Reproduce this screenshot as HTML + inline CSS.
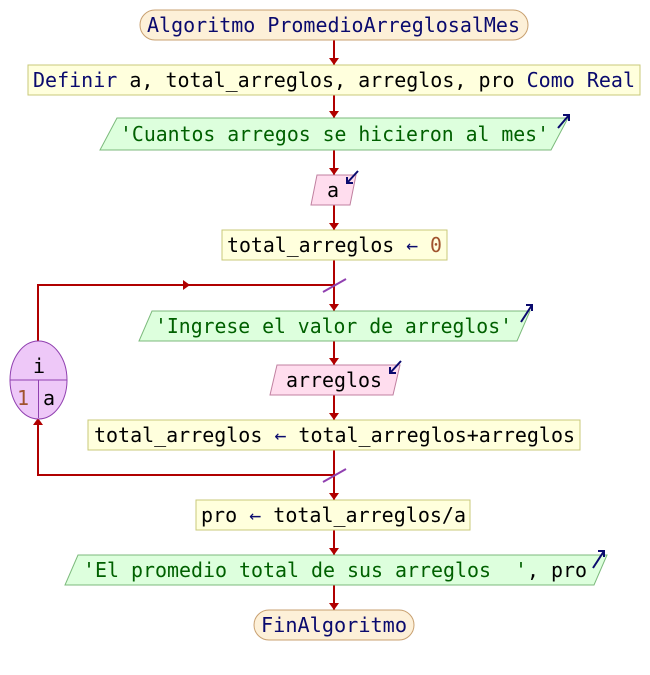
<!DOCTYPE html>
<html><head><style>
html,body{margin:0;padding:0;background:#fff;}
svg{display:block;}
text{font-family:"DejaVu Sans Mono","Liberation Mono",monospace;font-size:20px;}
.k{fill:#0a0a6e}.s{fill:#006000}.b{fill:#000}.n{fill:#a0522d}
</style></head><body>
<svg width="650" height="675" viewBox="0 0 650 675" xmlns="http://www.w3.org/2000/svg">
<g stroke="#b00000" stroke-width="2" fill="none">
<line x1="334" y1="40" x2="334" y2="65"/>
<line x1="334" y1="95" x2="334" y2="118"/>
<line x1="334" y1="150" x2="334" y2="175"/>
<line x1="334" y1="205" x2="334" y2="230"/>
<line x1="334" y1="260" x2="334" y2="311"/>
<line x1="334" y1="341" x2="334" y2="365"/>
<line x1="334" y1="395" x2="334" y2="420"/>
<line x1="334" y1="450" x2="334" y2="500"/>
<line x1="334" y1="530" x2="334" y2="555"/>
<line x1="334" y1="585" x2="334" y2="610"/>
<polyline points="38,341 38,285 334,285"/>
<polyline points="334,475 38,475 38,418"/>
</g>
<g fill="#b00000">
<path d="M329,58 L339,58 L334,65 Z"/>
<path d="M329,111 L339,111 L334,118 Z"/>
<path d="M329,168 L339,168 L334,175 Z"/>
<path d="M329,223 L339,223 L334,230 Z"/>
<path d="M329,304 L339,304 L334,311 Z"/>
<path d="M329,358 L339,358 L334,365 Z"/>
<path d="M329,413 L339,413 L334,420 Z"/>
<path d="M329,493 L339,493 L334,500 Z"/>
<path d="M329,548 L339,548 L334,555 Z"/>
<path d="M329,603 L339,603 L334,610 Z"/>
<path d="M183,280 L190,285 L183,290 Z"/>
<path d="M33,425 L43,425 L38,418 Z"/>
</g>
<g stroke="#9040b0" stroke-width="2">
<line x1="323" y1="292" x2="346" y2="279"/>
<line x1="323" y1="482" x2="346" y2="469"/>
</g>
<rect x="140" y="10" width="388" height="30" rx="15" fill="#fdf0d8" stroke="#c8a070"/>
<rect x="28" y="65" width="612" height="30" fill="#ffffdd" stroke="#c8c87a"/>
<polygon points="117,118 568,118 551,150 100,150" fill="#ddffdd" stroke="#7cba7c"/>
<polygon points="317,175 356,175 350,205 311,205" fill="#ffddee" stroke="#c080a0"/>
<rect x="222" y="230" width="225" height="30" fill="#ffffdd" stroke="#c8c87a"/>
<polygon points="152,311 530,311 517,341 139,341" fill="#ddffdd" stroke="#7cba7c"/>
<polygon points="277,365 400,365 393,395 270,395" fill="#ffddee" stroke="#c080a0"/>
<rect x="88" y="420" width="492" height="30" fill="#ffffdd" stroke="#c8c87a"/>
<rect x="196" y="500" width="274" height="30" fill="#ffffdd" stroke="#c8c87a"/>
<polygon points="78,555 607,555 594,585 65,585" fill="#ddffdd" stroke="#7cba7c"/>
<rect x="254" y="610" width="160" height="30" rx="15" fill="#fdf0d8" stroke="#c8a070"/>
<ellipse cx="38.5" cy="380" rx="28.5" ry="39" fill="#eec8f8" stroke="#9040b0"/>
<line x1="10" y1="380" x2="67" y2="380" stroke="#9040b0"/>
<line x1="38.5" y1="380" x2="38.5" y2="418" stroke="#9040b0"/>
<g stroke="#0a0a6e" stroke-width="2" fill="none">
<path d="M558,128 L569,115 M563,115 L569,115 L569,121"/>
<path d="M347,183 L358,171 M347,177 L347,183 L353,183"/>
<path d="M521,322 L532,305 M526,305 L532,305 L532,311"/>
<path d="M390,373 L401,361 M390,367 L390,373 L396,373"/>
<path d="M593,568 L604,551 M598,551 L604,551 L604,557"/>
</g>
<text x="147" y="32" class="k" textLength="373" lengthAdjust="spacingAndGlyphs">Algoritmo PromedioArreglosalMes</text>
<text x="33" y="87" textLength="602" lengthAdjust="spacingAndGlyphs"><tspan class="k">Definir</tspan><tspan class="b"> a, total_arreglos, arreglos, pro </tspan><tspan class="k">Como Real</tspan></text>
<text x="120" y="141" class="s" textLength="429" lengthAdjust="spacingAndGlyphs">'Cuantos arregos se hicieron al mes'</text>
<text x="327" y="197" class="b">a</text>
<text x="227" y="252" textLength="215" lengthAdjust="spacingAndGlyphs"><tspan class="b">total_arreglos </tspan><tspan class="k">←</tspan><tspan class="n"> 0</tspan></text>
<text x="155" y="333" class="s" textLength="357" lengthAdjust="spacingAndGlyphs">'Ingrese el valor de arreglos'</text>
<text x="286" y="387" class="b" textLength="96" lengthAdjust="spacingAndGlyphs">arreglos</text>
<text x="94" y="442" textLength="481" lengthAdjust="spacingAndGlyphs"><tspan class="b">total_arreglos </tspan><tspan class="k">←</tspan><tspan class="b"> total_arreglos+arreglos</tspan></text>
<text x="201" y="522" textLength="265" lengthAdjust="spacingAndGlyphs"><tspan class="b">pro </tspan><tspan class="k">←</tspan><tspan class="b"> total_arreglos/a</tspan></text>
<text x="83" y="577" textLength="504" lengthAdjust="spacingAndGlyphs"><tspan class="s">'El promedio total de sus arreglos &#160;'</tspan><tspan class="b">, pro</tspan></text>
<text x="261" y="632" class="k" textLength="146" lengthAdjust="spacingAndGlyphs">FinAlgoritmo</text>
<text x="33" y="373" class="b">i</text>
<text x="17" y="405" class="n">1</text>
<text x="43" y="405" class="b">a</text>
</svg>
</body></html>
